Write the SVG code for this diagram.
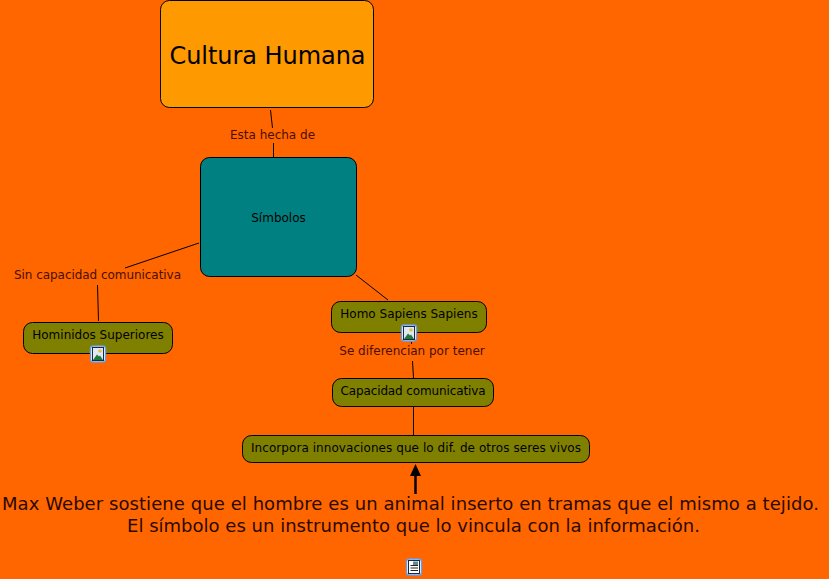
<svg xmlns="http://www.w3.org/2000/svg" width="829" height="579" viewBox="0 0 829 579">
<style>
text{font-family:"DejaVu Sans",Verdana,sans-serif;fill:#000;text-anchor:middle}
.n{stroke:#000;stroke-width:1}
.o{fill:#808000}
.c{stroke:#000;stroke-width:1;fill:none}
.l{font-size:12px;fill:#4a0f00}
.s{font-size:12px}
.m{font-size:18px;fill:#2a0a00}
.f{fill:#fff;stroke:#6f9be0;stroke-width:1.500}
</style>
<defs>
<g id="img"><rect x="-7.500" y="-8" width="15" height="16" rx="2.500" class="f"/><rect x="-5.500" y="-6.500" width="11" height="13" fill="#dfe8f5" stroke="#1a2a3a" stroke-width="1"/><path d="M-5 6L-1 0.500L1 2.500L2 1.500L5 6Z" fill="#1f7a3a"/><circle cx="2" cy="-3" r="1.800" fill="#e8c040"/></g>
<g id="doc"><rect x="-7.500" y="-8" width="15" height="16" rx="2.500" class="f"/><rect x="-5.500" y="-6.500" width="11" height="13" fill="#fff" stroke="#1a2a3a" stroke-width="1"/><path d="M-3.500-1.500H4M-3.500 1H4M-3.500 3.500H4" stroke="#222" stroke-width="1"/><rect x="-1" y="-5.500" width="5" height="3.500" fill="#5a8a9a"/></g>
</defs>
<rect width="829" height="579" fill="#ff6600"/>
<g id="connectors">
<path class="c" d="M270.500 110L272.500 128M273.500 143V157"/>
<path class="c" d="M199 243L125 268M97.500 285L98.500 321"/>
<path class="c" d="M356 275L388 300"/>
<path class="c" d="M411.500 342V344M412.500 361L413.500 378"/>
<path class="c" d="M413.500 407V435"/>
<path d="M415.500 494V475" stroke="#000" stroke-width="2.500" fill="none"/>
<path d="M415.500 464L421 476H410Z" fill="#000"/>
</g>
<g id="n1"><rect class="n" x="160.500" y="0.500" width="213" height="107" rx="9" fill="#ff9900"/><text x="267.500" y="64" font-size="24" textLength="196" lengthAdjust="spacing">Cultura Humana</text></g>
<g id="l1"><text class="l" x="272.500" y="139">Esta hecha de</text></g>
<g id="n2"><rect class="n" x="200.500" y="157.500" width="156" height="119" rx="9" fill="#008080"/><text class="s" x="278.500" y="222">Símbolos</text></g>
<g id="l2"><text class="l" x="97.500" y="279" textLength="167" lengthAdjust="spacing">Sin capacidad comunicativa</text></g>
<g id="n3"><rect class="n o" x="23.500" y="322.500" width="149" height="31" rx="9"/><text class="s" x="98" y="339">Hominidos Superiores</text><use href="#img" x="98" y="354"/></g>
<g id="n4"><rect class="n o" x="331.500" y="301.500" width="155" height="31" rx="9"/><text class="s" x="409" y="318">Homo Sapiens Sapiens</text><use href="#img" x="409" y="333"/></g>
<g id="l3"><text class="l" x="412" y="355">Se diferencian por tener</text></g>
<g id="n5"><rect class="n o" x="332.500" y="378.500" width="161" height="28" rx="9"/><text class="s" x="413" y="395" textLength="145" lengthAdjust="spacing">Capacidad comunicativa</text></g>
<g id="n6"><rect class="n o" x="242.500" y="435.500" width="347" height="27" rx="9"/><text class="s" x="416" y="452" textLength="330" lengthAdjust="spacing">Incorpora innovaciones que lo dif. de otros seres vivos</text></g>
<g id="n7"><text class="m" x="410.500" y="510" textLength="817" lengthAdjust="spacing">Max Weber sostiene que el hombre es un animal inserto en tramas que el mismo a tejido.</text><text class="m" x="413.500" y="532" textLength="573" lengthAdjust="spacing">El símbolo es un instrumento que lo vincula con la información.</text><use href="#doc" x="414" y="567"/></g>
</svg>
